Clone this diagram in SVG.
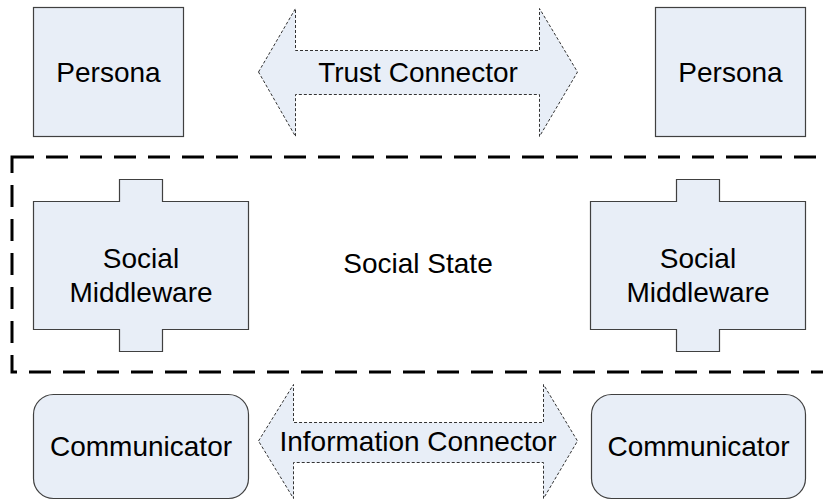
<svg xmlns="http://www.w3.org/2000/svg" width="823" height="500" viewBox="0 0 823 500">
  <style>
    .box { fill: #E8EEF7; stroke: #404040; stroke-width: 1.2; }
    .conn { fill: #E8EEF7; stroke: #333333; stroke-width: 1; stroke-dasharray: 3 2; }
    .region { fill: none; stroke: #000000; stroke-width: 3; stroke-dasharray: 22 12; }
    .lbl { font-family: "Liberation Sans", Arial, sans-serif; font-size: 28px; fill: #000000; text-anchor: middle; }
  </style>

  <!-- Social state region -->
  <g id="social-state">
    <rect class="region" x="12" y="157" width="830" height="215"/>
    <text class="lbl" x="418" y="273">Social State</text>
  </g>

  <!-- Personas -->
  <g id="persona-left">
    <rect class="box" x="33.5" y="7.5" width="150" height="129"/>
    <text class="lbl" x="108.5" y="82">Persona</text>
  </g>
  <g id="persona-right">
    <rect class="box" x="655.5" y="7.5" width="150" height="129"/>
    <text class="lbl" x="730.5" y="82">Persona</text>
  </g>

  <!-- Social middleware components -->
  <g id="middleware-left">
    <path class="box" d="M33.5,201.5 H119.5 V179.5 H162.5 V201.5 H248.5 V329.5 H162.5 V351.5 H119.5 V329.5 H33.5 Z"/>
    <text class="lbl" x="141" y="268">Social</text>
    <text class="lbl" x="141" y="302">Middleware</text>
  </g>
  <g id="middleware-right">
    <path class="box" d="M590.5,201.5 H676.5 V179.5 H719.5 V201.5 H805.5 V329.5 H719.5 V351.5 H676.5 V329.5 H590.5 Z"/>
    <text class="lbl" x="698" y="268">Social</text>
    <text class="lbl" x="698" y="302">Middleware</text>
  </g>

  <!-- Communicators -->
  <g id="communicator-left">
    <rect class="box" x="33.5" y="394.5" width="215" height="104" rx="20" ry="20"/>
    <text class="lbl" x="141" y="456">Communicator</text>
  </g>
  <g id="communicator-right">
    <rect class="box" x="591.5" y="394.5" width="214" height="104" rx="20" ry="20"/>
    <text class="lbl" x="698.5" y="456">Communicator</text>
  </g>

  <!-- Connectors -->
  <g id="connectors">
    <g id="trust-connector">
      <path class="conn" d="M258.5,72 L295.5,8.5 V50.5 H539.5 V8.5 L577.5,72 L539.5,136.5 V94.5 H295.5 V136.5 Z"/>
      <text class="lbl" x="418" y="82">Trust Connector</text>
    </g>
    <g id="information-connector">
      <path class="conn" d="M258.5,441 L293.5,384.5 V422.5 H543.5 V384.5 L577.5,441 L543.5,498.5 V462.5 H293.5 V498.5 Z"/>
      <text class="lbl" x="418" y="451">Information Connector</text>
    </g>
  </g>
</svg>
